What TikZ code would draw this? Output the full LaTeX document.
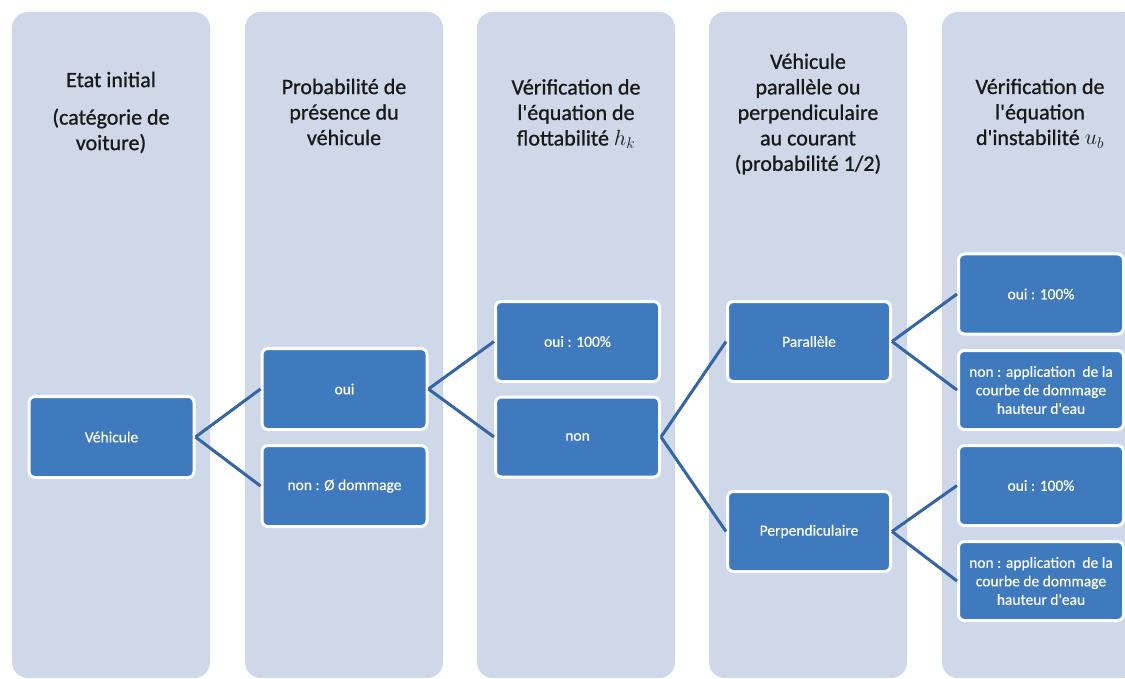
\RequirePackage{fix-cm}
\documentclass[tikz,border=0pt]{standalone}
\usepackage{fontspec}
\setmainfont{Carlito}
\newfontfamily\hdrfont{Carlito}[FakeBold=0.9]
\newfontfamily\leaffont{Carlito}[FakeBold=0.4]
\definecolor{colfill}{RGB}{206,216,232}
\definecolor{boxfill}{RGB}{63,122,190}
\definecolor{linkcol}{RGB}{52,101,164}
\definecolor{hdrtext}{RGB}{25,25,25}
\tikzset{
  colbg/.style={fill=colfill, rounded corners=16pt, minimum width=198pt, minimum height=666pt, inner sep=0pt},
  hdr/.style={align=center, font=\hdrfont\fontsize{22}{25.5}\selectfont, text=hdrtext, inner sep=0pt},
  leaf/.style={fill=boxfill, draw=white, line width=3pt, rounded corners=6pt,
    minimum width=165pt, minimum height=81pt, text=white, align=center,
    font=\leaffont\fontsize{15.5}{18.5}\selectfont, inner sep=2pt},
  link/.style={draw=linkcol, line width=3pt}
}
\newcommand{\apos}{\textquotesingle}
\begin{document}
\begin{tikzpicture}[x=1pt,y=-1pt]
\useasboundingbox (0,0) rectangle (1125,679);
\clip (0,0) rectangle (1125,679);
\fill[white] (0,0) rectangle (1125,679);
% columns
\node[colbg] (c1) at (111,345) {};
\node[colbg] (c2) at (344,345) {};
\node[colbg] (c3) at (576,345) {};
\node[colbg] (c4) at (808,345) {};
\node[colbg] (c5) at (1041,345) {};
% headers
\node[hdr] (h1) at (111,112.5) {Etat initial\\[12pt](catégorie de\\voiture)};
\node[hdr] (h2) at (344,112) {Probabilité de\\présence du\\véhicule};
\node[hdr] (h3) at (576,114) {Vérification de\\l\apos équation de\\flottabilité $h_k$};
\node[hdr] (h4) at (808,114) {Véhicule\\parallèle ou\\perpendiculaire\\au courant\\(probabilité 1/2)};
\node[hdr] (h5) at (1040,113.5) {Vérification de\\l\apos équation\\d\apos instabilité $u_b$};
% boxes
\node[leaf] (veh) at (111.5,437) {Véhicule};
\node[leaf] (oui2) at (344.5,389) {oui};
\node[leaf] (non2) at (344.5,486) {non : Ø dommage};
\node[leaf, minimum width=164pt, minimum height=80pt] (oui3) at (577.5,341.5) {oui : 100\%};
\node[leaf, minimum width=164pt, minimum height=80pt] (non3) at (577.5,437) {non};
\node[leaf, minimum width=163pt, minimum height=80pt] (par) at (809,341.5) {Parallèle};
\node[leaf, minimum width=163pt, minimum height=80pt] (perp) at (809,531.5) {Perpendiculaire};
\node[leaf, minimum width=165pt, minimum height=80pt] (oui5a) at (1041,294) {oui : 100\%};
\node[leaf, minimum width=165pt, minimum height=79pt] (non5a) at (1041,390) {non : application~ de la\\courbe de dommage\\hauteur d\apos eau};
\node[leaf, minimum width=165pt, minimum height=80pt] (oui5b) at (1041,485.5) {oui : 100\%};
\node[leaf, minimum width=165pt, minimum height=79pt] (non5b) at (1041,581) {non : application~ de la\\courbe de dommage\\hauteur d\apos eau};
% connectors
\draw[link] (veh.east) -- (oui2.west);
\draw[link] (veh.east) -- (non2.west);
\draw[link] (oui2.east) -- (oui3.west);
\draw[link] (oui2.east) -- (non3.west);
\draw[link] (non3.east) -- (par.west);
\draw[link] (non3.east) -- (perp.west);
\draw[link] (par.east) -- (oui5a.west);
\draw[link] (par.east) -- (non5a.west);
\draw[link] (perp.east) -- (oui5b.west);
\draw[link] (perp.east) -- (non5b.west);
\end{tikzpicture}
\end{document}
